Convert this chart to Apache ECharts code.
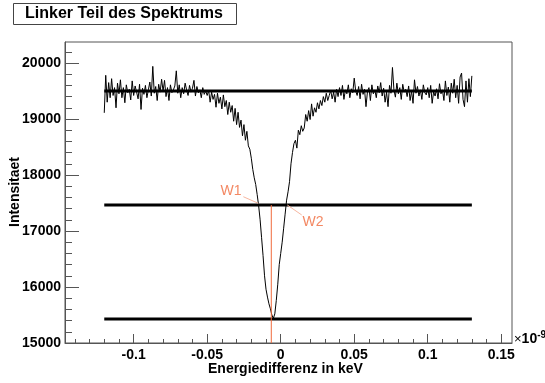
<!DOCTYPE html>
<html>
<head>
<meta charset="utf-8">
<script src="https://cdn.jsdelivr.net/npm/echarts@6/dist/echarts.min.js"></script>
<style>
html, body { margin: 0; padding: 0; background: #fff; }
#main { width: 545px; height: 383px; }
</style>
</head>
<body>
<div id="main"></div>
<script>
// Spektrum (x in 1e-9 keV, Bins zu 0.001)
var xFirst = -0.120;
var binWidth = 0.001;
var counts = [
  19110, 19780, 19300, 19650, 19380, 19720, 19420, 19560, 19200, 19640,
  19450, 19700, 19380, 19560, 19290, 19610, 19470, 19530, 19340, 19680,
  19420, 19590, 19480, 19360, 19620, 19170, 19550, 19440, 19600, 19380,
  19520, 19660, 19410, 19940, 19460, 19580, 19330, 19620, 19480, 19710,
  19500, 19690, 19400, 19560, 19330, 19610, 19470, 19520, 19590, 19860,
  19460, 19610, 19380, 19560, 19450, 19640, 19520, 19420, 19600, 19480,
  19550, 19690, 19410, 19580, 19470, 19520, 19380, 19560, 19440, 19500,
  19420, 19510, 19300, 19480, 19350, 19440, 19210, 19460, 19280, 19390,
  19180, 19430, 19220, 19330, 19080, 19300, 19120, 19240, 18960, 19190,
  18900, 19120, 18850, 18980, 18700, 18900, 18620, 18780, 18520, 18460,
  18300, 18100, 17950, 17830, 17650, 17450, 17200, 16880, 16560, 16200,
  15960, 15820, 15700, 15610, 15500, 15440, 15520, 15760, 16050, 16400,
  16600, 16800, 17050, 17300, 17550, 17700, 17880, 18200, 18400, 18560,
  18620, 18480, 18800, 18720, 18880, 18780, 18840, 19080, 18960, 19150,
  18990, 19270, 19050, 19200, 19120, 19290, 19180, 19330, 19240, 19400,
  19300, 19460, 19330, 19420, 19510, 19360, 19480, 19300, 19530, 19400,
  19560, 19420, 19600, 19350, 19520, 19450, 19610, 19380, 19540, 19470,
  19730, 19500, 19420, 19580, 19360, 19620, 19440, 19530, 19220, 19490,
  19560, 19330, 19610, 19450, 19520, 19380, 19590, 19470, 19650, 19410,
  19550, 19300, 19480, 19220, 19600, 19460, 19920, 19520, 19390, 19640,
  19450, 19560, 19350, 19620, 19480, 19530, 19400, 19590, 19330, 19500,
  19280, 19700, 19460, 19580, 19410, 19520, 19350, 19610, 19470, 19430,
  19560, 19380, 19600, 19280, 19490, 19410, 19540, 19360, 19630, 19450,
  19520, 19330, 19680, 19420, 19570, 19300, 19640, 19460, 19710, 19380,
  19600, 19280, 19750, 19820, 19350, 19220, 19680, 19300, 19720, 19400,
  19770
];

// Hilfslinien: Maximum, halbe Hoehe, Minimum
var levels = [19500, 17464, 15430];
var levelRange = [-0.12, 0.13];
var minPos = -0.0064;
var w1Line = [[-0.0254, 17612], [-0.0152, 17494]];
var w2Line = [[0.0045, 17464], [0.0143, 17286]];
var wLabels = [
  { name: 'W1', value: [-0.0338, 17714] },
  { name: 'W2', value: [0.0220, 17152] }
];

// Achsen
var xMin = -0.1467, xMax = 0.1573;
var yMin = 15000, yMax = 20375;
var xMajor = [-0.1, -0.05, 0, 0.05, 0.1, 0.15];
var yMajor = [15000, 16000, 17000, 18000, 19000, 20000];

var xMinor = [];
for (var v = -14; v <= 15; v++) xMinor.push(v / 100);
var yMinor = [];
for (var w = 15000; w <= 20375; w += 200) yMinor.push(w);

var spectrum = counts.map(function (c, i) {
  return [xFirst + i * binWidth, c];
});

var red = '#f06a3c';
var frameColor = '#555';
var font = 'Liberation Sans, Arial, Helvetica, sans-serif';

var series = [
  {
    type: 'line',
    data: spectrum,
    symbol: 'none',
    lineStyle: { color: '#000', width: 1 },
    z: 2
  }
];
levels.forEach(function (lv) {
  series.push({
    type: 'line',
    data: [[levelRange[0], lv], [levelRange[1], lv]],
    symbol: 'none',
    lineStyle: { color: '#000', width: 3 },
    z: 3
  });
});
series.push({
  type: 'line',
  data: [[minPos, yMin], [minPos, levels[1]]],
  symbol: 'none',
  lineStyle: { color: red, width: 1 },
  z: 4
});
[w1Line, w2Line].forEach(function (seg) {
  series.push({
    type: 'line',
    data: seg,
    symbol: 'none',
    lineStyle: { color: '#f7b7a1', width: 1 },
    z: 4
  });
});
series.push({
  type: 'scatter',
  data: wLabels,
  symbolSize: 1,
  itemStyle: { color: 'rgba(0,0,0,0)' },
  label: {
    show: true,
    position: 'inside',
    formatter: '{b}',
    color: red,
    fontSize: 14,
    fontFamily: font
  },
  z: 5
});

var chart = echarts.init(document.getElementById('main'));
chart.setOption({
  animation: false,
  backgroundColor: '#fff',
  title: {
    text: 'Linker Teil des Spektrums',
    left: 13,
    top: 3,
    padding: [3, 14, 3, 12],
    borderColor: '#444',
    borderWidth: 1,
    textStyle: { fontSize: 16, fontWeight: 'bold', color: '#000', fontFamily: font }
  },
  grid: {
    left: 65, right: 33, top: 42, bottom: 40,
    outerBoundsMode: 'none',
    containLabel: false,
    show: true,
    borderColor: frameColor,
    borderWidth: 1,
    backgroundColor: '#fff'
  },
  xAxis: [
    {
      type: 'value',
      min: xMin, max: xMax,
      axisLine: { show: true, onZero: false, lineStyle: { color: frameColor } },
      axisTick: { show: true, inside: true, length: 9, customValues: xMajor, lineStyle: { color: frameColor } },
      splitLine: { show: false },
      axisLabel: {
        customValues: xMajor,
        margin: 5,
        fontSize: 14, fontWeight: 'bold', color: '#000', fontFamily: font,
        formatter: function (val) { return String(Math.round(val * 100) / 100); }
      }
    },
    {
      type: 'value',
      position: 'bottom',
      min: xMin, max: xMax,
      axisLine: { show: false, onZero: false },
      axisTick: { show: true, inside: true, length: 4, customValues: xMinor, lineStyle: { color: frameColor } },
      splitLine: { show: false },
      axisLabel: { show: false }
    }
  ],
  yAxis: [
    {
      type: 'value',
      min: yMin, max: yMax,
      axisLine: { show: true, onZero: false, lineStyle: { color: frameColor } },
      axisTick: { show: true, inside: true, length: 14, customValues: yMajor, lineStyle: { color: frameColor } },
      splitLine: { show: false },
      axisLabel: {
        customValues: yMajor,
        margin: 4,
        fontSize: 14, fontWeight: 'bold', color: '#000', fontFamily: font,
        formatter: function (val) { return String(val); }
      }
    },
    {
      type: 'value',
      position: 'left',
      min: yMin, max: yMax,
      axisLine: { show: false, onZero: false },
      axisTick: { show: true, inside: true, length: 7, customValues: yMinor, lineStyle: { color: frameColor } },
      splitLine: { show: false },
      axisLabel: { show: false }
    }
  ],
  graphic: [
    {
      type: 'text',
      x: 15,
      y: 192,
      rotation: Math.PI / 2,
      style: {
        text: 'Intensitaet',
        font: 'bold 14px ' + font,
        fill: '#000',
        align: 'center',
        verticalAlign: 'middle'
      }
    },
    {
      type: 'text',
      left: 208,
      top: 362,
      style: {
        text: 'Energiedifferenz in keV',
        font: 'bold 14px ' + font,
        fill: '#000'
      }
    },
    {
      type: 'text',
      left: 514,
      top: 330,
      style: {
        text: '{a|×}{b|10}{c|-9}',
        rich: {
          a: { font: '13px ' + font, fill: '#000', verticalAlign: 'bottom' },
          b: { font: 'bold 14px ' + font, fill: '#000', verticalAlign: 'bottom' },
          c: { font: 'bold 10px ' + font, fill: '#000', verticalAlign: 'top', padding: [0, 0, 6, 0] }
        }
      }
    }
  ],
  series: series
});
</script>
</body>
</html>
